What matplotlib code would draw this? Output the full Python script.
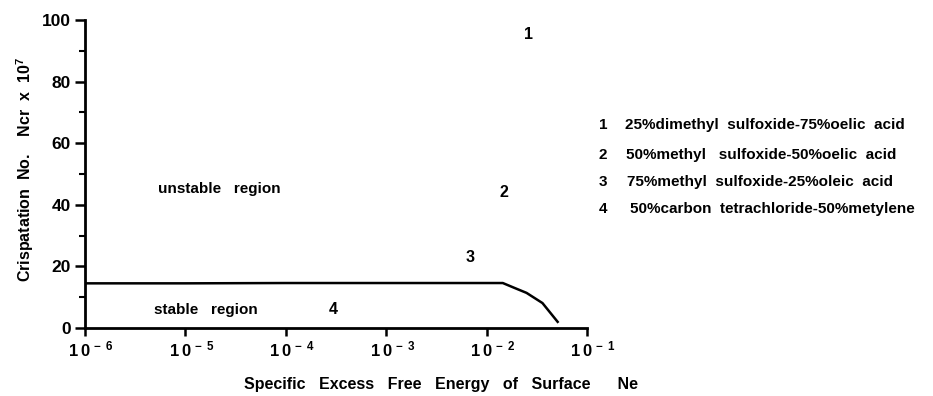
import matplotlib
matplotlib.use("Agg")
import matplotlib.pyplot as plt
import matplotlib.transforms as mtransforms
from matplotlib.ticker import FixedLocator, FixedFormatter

plt.rcParams["font.family"] = ["Liberation Sans", "DejaVu Sans"]
plt.rcParams["font.weight"] = "bold"
plt.rcParams["mathtext.fontset"] = "custom"
plt.rcParams["mathtext.rm"] = "Liberation Sans:bold"
plt.rcParams["mathtext.bf"] = "Liberation Sans:bold"
plt.rcParams["mathtext.default"] = "bf"

# boundary curve between stable / unstable regions
curve_x = [1e-6, 1e-5, 1e-4, 1e-3, 0.0145, 0.019, 0.025, 0.036, 0.051]
curve_y = [14.5, 14.5, 14.6, 14.6, 14.6, 13.0, 11.4, 8.1, 2.0]

# numbered mixture labels (position on the chart)
mix_ids = ["1", "2", "3", "4"]
mix_x = [0.026, 0.015, 0.0068, 2.95e-4]
mix_y = [95.3, 43.9, 23.0, 6.0]
mix_names = [
    "25%dimethyl  sulfoxide-75%oelic  acid",
    "50%methyl   sulfoxide-50%oelic  acid",
    "75%methyl  sulfoxide-25%oleic  acid",
    "50%carbon  tetrachloride-50%metylene",
]

x_ticks = [1e-6, 1e-5, 1e-4, 1e-3, 1e-2, 1e-1]
x_ticklabels = [r"$1\,0^{\,-\,6}$", r"$1\,0^{\,-\,5}$", r"$1\,0^{\,-\,4}$",
                r"$1\,0^{\,-\,3}$", r"$1\,0^{\,-\,2}$", r"$1\,0^{\,-\,1}$"]
y_ticks = [0, 20, 40, 60, 80, 100]
y_minor = [10, 30, 50, 70, 90]

fig = plt.figure(figsize=(9.33, 3.96), dpi=100)
ax = fig.add_axes([85 / 933, 1 - 328 / 396, (587 - 85) / 933, (328 - 20) / 396])

ax.plot(curve_x, curve_y, color="black", lw=1.8)
ax.set_xscale("log")
ax.set_xlim(1e-6, 1e-1)
ax.set_ylim(0, 100)

ax.spines["top"].set_visible(False)
ax.spines["right"].set_visible(False)
ax.spines["left"].set_linewidth(2)
ax.spines["bottom"].set_linewidth(2)

ax.xaxis.set_major_locator(FixedLocator(x_ticks))
ax.xaxis.set_major_formatter(FixedFormatter(x_ticklabels))
ax.xaxis.set_minor_locator(FixedLocator([]))
ax.set_yticks(y_ticks)
ax.set_yticks(y_minor, minor=True)
ax.tick_params(axis="both", which="major", length=7, width=1.8)
ax.tick_params(axis="y", which="major", labelsize=12.5, pad=3)
ax.tick_params(axis="x", which="major", labelsize=12, pad=2, length=6)
ax.tick_params(axis="y", which="minor", length=4, width=1.5)

# the scanned tick labels sit a little right of their ticks
shift = mtransforms.ScaledTranslation(6 / 100, 0, fig.dpi_scale_trans)
for lab in ax.get_xticklabels():
    lab.set_transform(lab.get_transform() + shift)

for t, x, y in zip(mix_ids, mix_x, mix_y):
    ax.text(x, y, t, ha="center", va="center", fontsize=11.5, fontweight="bold")

ax.text(2.2e-5, 45, "unstable   region", ha="center", va="center",
        fontsize=11, fontweight="bold")
ax.text(1.6e-5, 5.8, "stable   region", ha="center", va="center",
        fontsize=11, fontweight="bold")

leg_y = [125, 155, 182, 209]
leg_x = [625, 626, 627, 630]
for t, name, yp, xp in zip(mix_ids, mix_names, leg_y, leg_x):
    fig.text(603 / 933, 1 - yp / 396, t, ha="center", va="center",
             fontsize=11, fontweight="bold")
    fig.text(xp / 933, 1 - yp / 396, name, ha="left", va="center",
             fontsize=11, fontweight="bold")

fig.text(441 / 933, 1 - 384 / 396,
         "Specific   Excess   Free   Energy   of   Surface      Ne",
         ha="center", va="center", fontsize=11.5, fontweight="bold")
fig.text(25 / 933, 1 - 170 / 396, r"Crispatation  No.    Ncr  x  10$^{7}$",
         rotation=90, ha="center", va="center", fontsize=11.5, fontweight="bold")

fig.savefig("out.png", dpi=100)
